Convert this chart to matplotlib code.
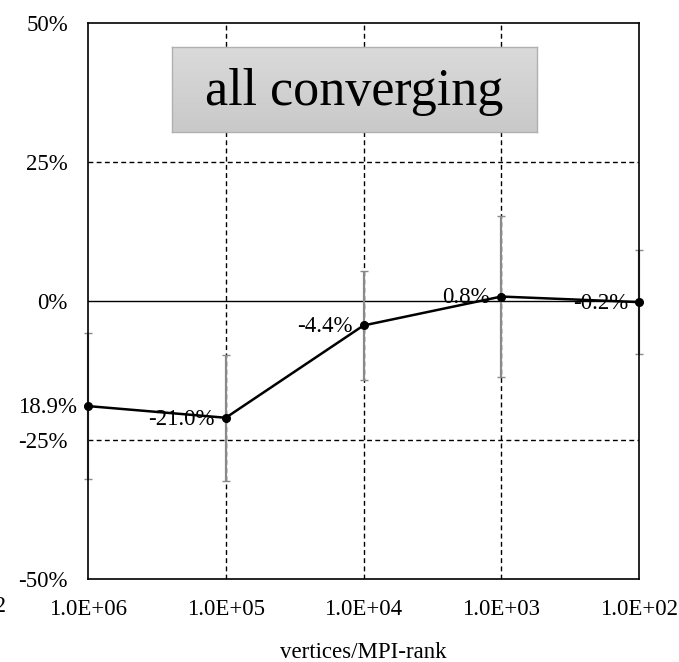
import matplotlib
matplotlib.use("Agg")
import matplotlib.pyplot as plt
import numpy as np

# ---- data ----
vertices_per_rank = [1e6, 1e5, 1e4, 1e3, 1e2]
x_tick_labels = ["1.0E+06", "1.0E+05", "1.0E+04", "1.0E+03", "1.0E+02"]
deviation_pct = [-18.9, -21.0, -4.4, 0.8, -0.2]
error_pct = [13.1, 11.3, 9.8, 14.5, 9.4]
point_labels = ["18.9%", "-21.0%", "-4.4%", "0.8%", "-0.2%"]
y_ticks = [-50, -25, 0, 25, 50]
y_tick_labels = ["-50%", "-25%", "0%", "25%", "50%"]
title_text = "all converging"
x_label = "vertices/MPI-rank"

plt.rcParams["font.family"] = ["Liberation Serif", "DejaVu Serif"]

fig = plt.figure(figsize=(6.79, 6.62), dpi=100)
ax = fig.add_axes([88/679, 1-579/662, (639-88)/679, (579-23)/662])

ax.set_xscale("log")
ax.set_xlim(1e6, 1e2)
ax.set_ylim(-50, 50)

# grid
for xv in vertices_per_rank[1:-1]:
    ax.axvline(xv, color="black", lw=1.0, dashes=(3.5, 2.4), zorder=1)
for yv in (25, -25):
    ax.axhline(yv, color="black", lw=1.0, dashes=(3.5, 2.4), zorder=1)
ax.axhline(0, color="black", lw=1.0, zorder=1)

# error bars
ax.errorbar(vertices_per_rank, deviation_pct, yerr=error_pct, fmt="none",
            ecolor="#8a8a8a", elinewidth=1.6, capsize=3, capthick=1.0,
            zorder=2, clip_on=False)
# line + markers
ax.plot(vertices_per_rank, deviation_pct, color="black", lw=1.8,
        marker="o", markersize=5.5, zorder=4, clip_on=False)

for xv, yv, lab in zip(vertices_per_rank, deviation_pct, point_labels):
    ax.annotate(lab, (xv, yv), xytext=(-8, -1), textcoords="offset points",
                ha="right", va="center", fontsize=16.5, zorder=5,
                annotation_clip=False)

ax.set_xticks(vertices_per_rank)
ax.set_xticklabels(x_tick_labels, fontsize=16.5)
ax.minorticks_off()
ax.set_yticks(y_ticks)
ax.set_yticklabels(y_tick_labels, fontsize=16.5)
ax.tick_params(axis="x", length=0, pad=14.5)
ax.tick_params(axis="y", length=0, pad=14.5)
ax.set_xlabel(x_label, fontsize=16.5, labelpad=16)

for s in ax.spines.values():
    s.set_linewidth(1.2)
    s.set_color("black")
    s.set_zorder(3)

# title box with gradient
bax = fig.add_axes([172/679, 1-132/662, 365/679, 85/662])
grad = np.linspace(0, 1, 100).reshape(-1, 1)
bax.imshow(grad, aspect="auto", cmap=matplotlib.colors.LinearSegmentedColormap.from_list(
    "g", ["#dadada", "#c9c9c9"]), extent=[0, 1, 0, 1], origin="upper")
bax.set_xlim(0, 1)
bax.set_ylim(0, 1)
bax.set_xticks([])
bax.set_yticks([])
for s in bax.spines.values():
    s.set_color("#b0b0b0")
    s.set_linewidth(1.0)
bax.text(0.5, 0.47, title_text, ha="center", va="center", fontsize=37.5,
         color="black")

# clipped leftover label at the far left (as in the reference)
fig.text(6/679, 1-607/662, "1.0E+02", ha="right", va="center", fontsize=16.5)

fig.savefig("out.png", dpi=100)
